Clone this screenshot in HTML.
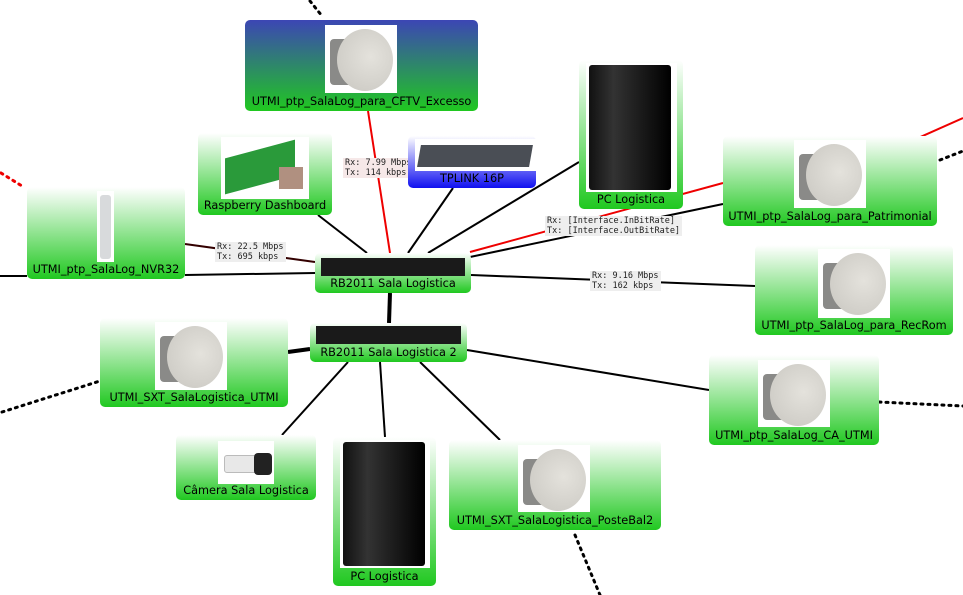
<!DOCTYPE html>
<html><head><meta charset="utf-8"><style>
body{margin:0;width:963px;height:595px;position:relative;background:#fff;overflow:hidden;font-family:"DejaVu Sans","Liberation Sans",sans-serif}
.n{position:absolute;border-radius:5px;background:linear-gradient(#fff,#20c820);box-sizing:border-box}
.n .l{position:absolute;left:0;right:0;bottom:3px;text-align:center;font-size:11.3px;color:#000;white-space:nowrap}
.im{position:absolute;background:#fff;overflow:hidden}
.ant{position:absolute;border-radius:50%;background:radial-gradient(circle at 60% 45%,#e4e2dc,#c8c6c0)}
.antb{position:absolute;background:#8a8a88;border-radius:4px}
.tw{position:absolute;background:linear-gradient(90deg,#111,#333 30%,#000);border-radius:3px}
.lab{position:absolute;background:#eee;font-family:"DejaVu Sans Mono","Liberation Mono",monospace;font-size:8.5px;line-height:10px;color:#222;padding:0 2px;white-space:nowrap}
.rb{position:absolute;background:#1a1a1a;height:18px}
</style></head><body>
<svg width="963" height="595" style="position:absolute;left:0;top:0">
<g stroke="#000" stroke-width="2" fill="none">
<line x1="0" y1="276" x2="27" y2="276"/>
<line x1="185" y1="275" x2="315" y2="273"/>
<line x1="185" y1="244" x2="315" y2="262" stroke="#300"/>
<line x1="318" y1="215" x2="367" y2="253"/>
<line x1="453" y1="188" x2="408" y2="253"/>
<line x1="579" y1="162" x2="428" y2="253"/>
<line x1="723" y1="204" x2="470" y2="257"/>
<line x1="471" y1="275" x2="755" y2="286"/>
<line x1="390" y1="293" x2="389" y2="323" stroke-width="4"/>
<line x1="310" y1="349" x2="288" y2="352" stroke-width="4"/>
<line x1="467" y1="350" x2="709" y2="390"/>
<line x1="348" y1="362" x2="282" y2="435"/>
<line x1="380" y1="362" x2="385" y2="437"/>
<line x1="420" y1="362" x2="500" y2="440"/>
</g>
<g stroke="#e00" stroke-width="2" fill="none">
<line x1="368" y1="111" x2="390" y2="253"/>
<line x1="723" y1="183" x2="470" y2="252"/>
<line x1="880" y1="155" x2="963" y2="118"/>
</g>
<g stroke="#000" stroke-width="3" stroke-dasharray="2,5" fill="none" stroke-linecap="round">
<line x1="310" y1="1" x2="322" y2="16"/>
<line x1="2" y1="412" x2="100" y2="381"/>
<line x1="940" y1="160" x2="963" y2="151"/>
<line x1="879" y1="402" x2="963" y2="406"/>
<line x1="575" y1="535" x2="600" y2="595"/>
</g>
<line x1="1" y1="173" x2="22" y2="186" stroke="#e00" stroke-width="3" stroke-dasharray="2,5" stroke-linecap="round"/>
</svg>

<div class="lab" style="left:215px;top:242px">Rx: 22.5 Mbps<br>Tx: 695 kbps</div>
<div class="lab" style="left:343px;top:158px;background:#f6e8e8">Rx: 7.99 Mbps<br>Tx: 114 kbps</div>
<div class="lab" style="left:545px;top:216px">Rx: [Interface.InBitRate]<br>Tx: [Interface.OutBitRate]</div>
<div class="lab" style="left:590px;top:271px">Rx: 9.16 Mbps<br>Tx: 162 kbps</div>

<div class="n" style="left:245px;top:20px;width:233px;height:91px;background:linear-gradient(#3c46b4,#20c820)">
<div class="im" style="left:80px;top:5px;width:72px;height:68px"><div class="antb" style="left:5px;top:14px;width:24px;height:46px"></div><div class="ant" style="left:12px;top:4px;width:56px;height:62px"></div></div>
<div class="l">UTMI_ptp_SalaLog_para_CFTV_Excesso</div></div>

<div class="n" style="left:198px;top:133px;width:134px;height:82px">
<div class="im" style="left:23px;top:4px;width:88px;height:62px"><div style="position:absolute;left:4px;top:12px;width:70px;height:36px;background:#2a9a3a;transform:skewY(-15deg)"></div><div style="position:absolute;left:58px;top:30px;width:24px;height:22px;background:#b09080"></div></div>
<div class="l">Raspberry Dashboard</div></div>

<div class="n" style="left:408px;top:136px;width:128px;height:52px;background:linear-gradient(#fff,#1010f0)">
<div class="im" style="left:7px;top:3px;width:121px;height:32px"><div style="position:absolute;left:4px;top:6px;width:112px;height:22px;background:#4a4e55;transform:skewX(-10deg)"></div></div>
<div class="l">TPLINK 16P</div></div>

<div class="n" style="left:579px;top:60px;width:104px;height:149px">
<div class="im" style="left:7px;top:3px;width:91px;height:129px"><div class="tw" style="left:3px;top:2px;width:82px;height:125px"></div></div>
<div class="l">PC Logistica</div></div>

<div class="n" style="left:723px;top:136px;width:214px;height:90px">
<div class="im" style="left:71px;top:4px;width:72px;height:68px"><div class="antb" style="left:5px;top:14px;width:24px;height:46px"></div><div class="ant" style="left:12px;top:4px;width:56px;height:62px"></div></div>
<div class="l">UTMI_ptp_SalaLog_para_Patrimonial</div></div>

<div class="n" style="left:755px;top:245px;width:198px;height:90px">
<div class="im" style="left:63px;top:4px;width:72px;height:69px"><div class="antb" style="left:5px;top:14px;width:24px;height:46px"></div><div class="ant" style="left:12px;top:4px;width:56px;height:62px"></div></div>
<div class="l">UTMI_ptp_SalaLog_para_RecRom</div></div>

<div class="n" style="left:27px;top:187px;width:158px;height:92px">
<div class="im" style="left:70px;top:4px;width:17px;height:71px"><div style="position:absolute;left:3px;top:4px;width:11px;height:64px;background:#d8dadc;border-radius:3px"></div></div>
<div class="l">UTMI_ptp_SalaLog_NVR32</div></div>

<div class="n" style="left:315px;top:253px;width:156px;height:40px">
<div class="rb" style="left:6px;top:5px;width:144px"></div>
<div class="l">RB2011 Sala Logistica</div></div>

<div class="n" style="left:310px;top:323px;width:157px;height:39px">
<div class="rb" style="left:6px;top:3px;width:145px"></div>
<div class="l">RB2011 Sala Logistica 2</div></div>

<div class="n" style="left:100px;top:318px;width:188px;height:89px">
<div class="im" style="left:55px;top:4px;width:72px;height:68px"><div class="antb" style="left:5px;top:14px;width:24px;height:46px"></div><div class="ant" style="left:12px;top:4px;width:56px;height:62px"></div></div>
<div class="l">UTMI_SXT_SalaLogistica_UTMI</div></div>

<div class="n" style="left:709px;top:355px;width:170px;height:90px">
<div class="im" style="left:49px;top:5px;width:72px;height:67px"><div class="antb" style="left:5px;top:14px;width:24px;height:46px"></div><div class="ant" style="left:12px;top:4px;width:56px;height:62px"></div></div>
<div class="l">UTMI_ptp_SalaLog_CA_UTMI</div></div>

<div class="n" style="left:176px;top:435px;width:140px;height:65px">
<div class="im" style="left:42px;top:6px;width:56px;height:43px"><div style="position:absolute;left:6px;top:14px;width:34px;height:16px;background:#e8e8e8;border:1px solid #bbb;border-radius:3px"></div><div style="position:absolute;left:36px;top:12px;width:18px;height:22px;background:#222;border-radius:4px"></div></div>
<div class="l">Câmera Sala Logistica</div></div>

<div class="n" style="left:333px;top:437px;width:103px;height:149px">
<div class="im" style="left:7px;top:3px;width:90px;height:128px"><div class="tw" style="left:3px;top:2px;width:82px;height:124px"></div></div>
<div class="l">PC Logistica</div></div>

<div class="n" style="left:449px;top:440px;width:212px;height:90px">
<div class="im" style="left:69px;top:5px;width:72px;height:67px"><div class="antb" style="left:5px;top:14px;width:24px;height:46px"></div><div class="ant" style="left:12px;top:4px;width:56px;height:62px"></div></div>
<div class="l">UTMI_SXT_SalaLogistica_PosteBal2</div></div>
</body></html>
